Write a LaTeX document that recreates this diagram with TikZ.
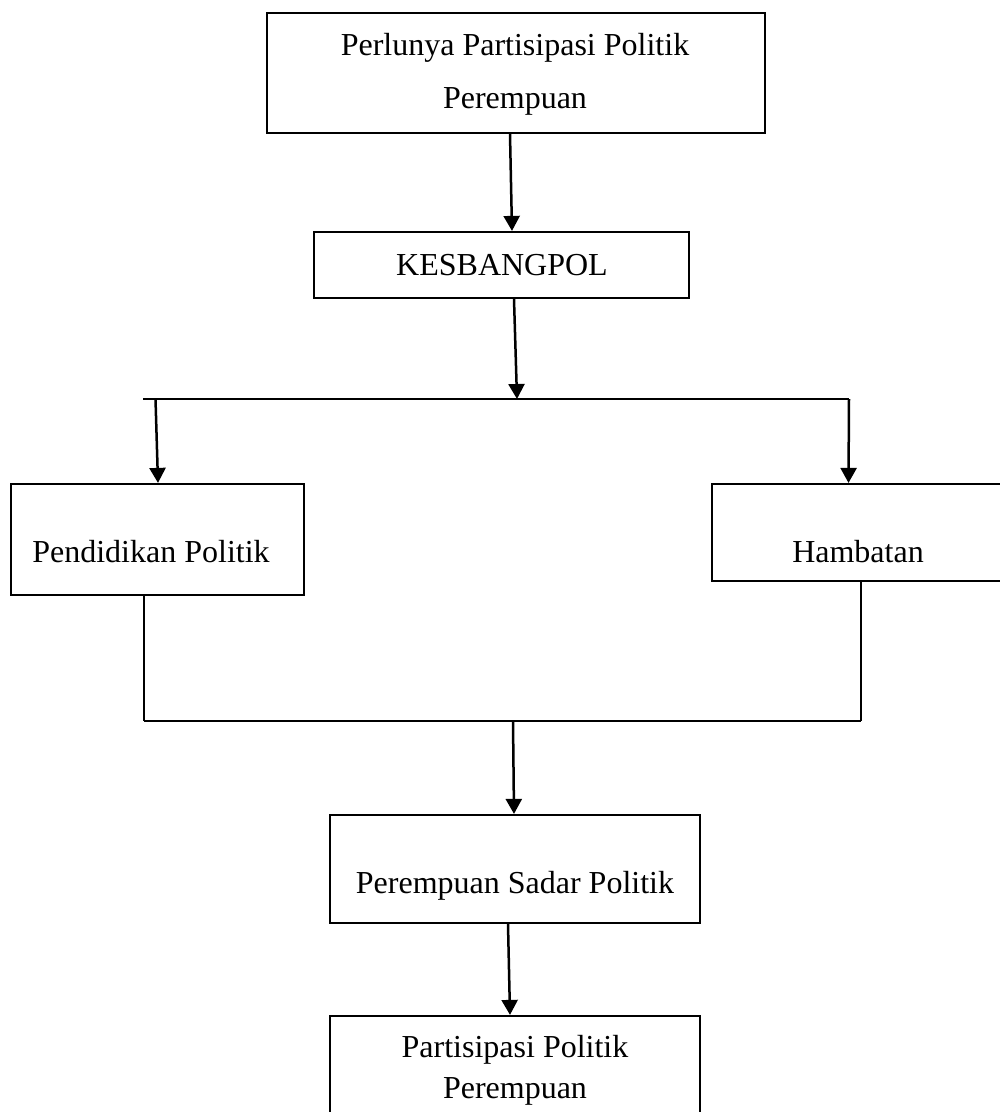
\documentclass[tikz,border=0pt]{standalone}
\usepackage{fontspec}
\setmainfont{Liberation Serif}
\usetikzlibrary{arrows.meta}
\begin{document}
\begin{tikzpicture}[x=1pt,y=-1pt,
  box/.style={draw,line width=2.2pt,inner sep=0pt},
  lbl/.style={font=\fontsize{32}{38}\selectfont,inner sep=0pt,anchor=base},
  arr/.style={line width=2.5pt,-{Triangle[length=15pt,width=16pt]}},
  conn/.style={line width=2.2pt},
  thinconn/.style={line width=1.8pt}]
\useasboundingbox (0,0) rectangle (1000,1112);
\clip (0,0) rectangle (1000,1112);
% boxes
\node[box,minimum width=498pt,minimum height=120pt] (b1) at (516,73) {};
\node[box,minimum width=375pt,minimum height=66pt] (b2) at (501.5,265) {};
\node[box,minimum width=293pt,minimum height=111pt] (b3) at (157.5,539.5) {};
\node[box,minimum width=298pt,minimum height=97pt] (b4) at (861,532.5) {};
\node[box,minimum width=370pt,minimum height=108pt] (b5) at (515,869) {};
\node[box,minimum width=370pt,minimum height=114pt] (b6) at (515,1073) {};
% texts
\node[lbl] (t1a) at (515,55) {Perlunya Partisipasi Politik};
\node[lbl] (t1b) at (515,108) {Perempuan};
\node[lbl] (t2) at (502,275) {KESBANGPOL};
\node[lbl] (t3) at (151,562) {Pendidikan Politik};
\node[lbl] (t4) at (858,562) {Hambatan};
\node[lbl] (t5) at (515,893) {Perempuan Sadar Politik};
\node[lbl] (t6a) at (515,1057) {Partisipasi Politik};
\node[lbl] (t6b) at (515,1098) {Perempuan};
% junction coordinates
\coordinate (jl) at (143,399);
\coordinate (jc) at (517,399);
\coordinate (jr) at (849,399);
\coordinate (jla) at (155.5,399);
\coordinate (ml) at (144,721);
\coordinate (mc) at (513,721);
\coordinate (mr) at (861,721);
% connectors
\draw[arr] ([xshift=-6pt]b1.south) -- ([xshift=10.5pt]b2.north);
\draw[arr] ([xshift=12.5pt]b2.south) -- (jc);
\draw[conn] (jl) -- (jr);
\draw[arr] (jla) -- ([xshift=0.5pt]b3.north);
\draw[arr] (jr) -- ([xshift=-12.5pt]b4.north);
\draw[thinconn] ([xshift=-13.5pt]b3.south) -- (ml);
\draw[thinconn] (b4.south) -- (mr);
\draw[conn] (ml) -- (mr);
\draw[arr] (mc) -- ([xshift=-1pt]b5.north);
\draw[arr] ([xshift=-7pt]b5.south) -- ([xshift=-5pt]b6.north);
\end{tikzpicture}
\end{document}
